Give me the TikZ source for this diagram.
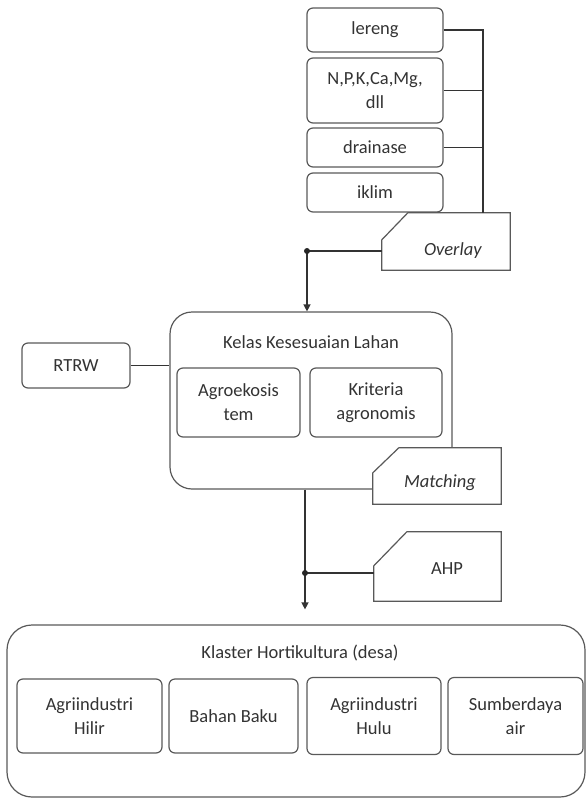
\documentclass[tikz,border=0pt]{standalone}
\usepackage{fontspec}
\setmainfont{Carlito}
\usetikzlibrary{arrows.meta}

\begin{document}
\begin{tikzpicture}[x=1pt,y=-1pt]
\tikzstyle{every node}=[font=\fontsize{18.5}{24}\selectfont, text=black!80]
\tikzstyle{kotak}=[draw=black!65, line width=1.2pt, rounded corners=6pt, align=center]
\tikzstyle{garis}=[draw=black!80, line width=1.3pt]
\tikzstyle{potong}=[draw=black!65, line width=1.2pt, fill=white]
\tikzstyle{panah}=[garis, -{Triangle[width=7pt,length=7pt]}]
\useasboundingbox (0, 0) rectangle (587, 798);

% parameter lahan
\node [kotak, minimum width=136pt, minimum height=44pt] (lereng) at (375, 30) {lereng};
\node [kotak, minimum width=136pt, minimum height=65pt] (npk) at (375, 90.5) {N,P,K,Ca,Mg,\\dll};
\node [kotak, minimum width=136pt, minimum height=39pt] (drainase) at (375, 147.5) {drainase};
\node [kotak, minimum width=136pt, minimum height=39pt] (iklim) at (375, 192.5) {iklim};

% overlay
\coordinate (bus) at (483, 0);
\node [minimum width=128pt, minimum height=57pt] (overlay) at (446, 241.5) {};
\draw [potong] ([xshift=26pt]overlay.north west) -- (overlay.north east) -- (overlay.south east)
  -- (overlay.south west) -- ([yshift=-27pt]overlay.north west) -- cycle;
\node (overlaytext) at (453, 251) {\textit{Overlay}};

\draw [garis] (lereng.east) -- (lereng.east -| bus) -- (overlay.north -| bus);
\draw [garis] (npk.east) -- (npk.east -| bus);
\draw [garis] (drainase.east) -- (drainase.east -| bus);

% kesesuaian lahan
\node [kotak, rounded corners=22pt, minimum width=282pt, minimum height=177pt] (kelas) at (311, 400.5) {};
\node (kelastitle) at (311, 342) {Kelas Kesesuaian Lahan};
\node [kotak, minimum width=123pt, minimum height=69pt] (agro) at (238.5, 402.5) {Agroekosis\\tem};
\node [kotak, minimum width=132pt, minimum height=69pt] (kriteria) at (376, 402.5) {Kriteria\\agronomis};
\node [kotak, minimum width=108pt, minimum height=45pt] (rtrw) at (76, 365.5) {RTRW};
\draw [garis] (rtrw.east) -- (rtrw.east -| kelas.west);

\coordinate (j1) at (307, 251);
\draw [garis] (overlay.west |- j1) -- (j1);
\draw [panah] (j1) -- (j1 |- kelas.north);
\fill [black!85] (j1) circle [radius=3];

% matching
\node [minimum width=128pt, minimum height=56pt] (matching) at (437, 476) {};
\draw [potong] ([xshift=26pt]matching.north west) -- (matching.north east) -- (matching.south east)
  -- (matching.south west) -- ([yshift=-25pt]matching.north west) -- cycle;
\node (matchingtext) at (440, 483) {\textit{Matching}};

% AHP
\node [minimum width=127pt, minimum height=69pt] (ahp) at (437.5, 566.5) {};
\draw [potong] ([xshift=33pt]ahp.north west) -- (ahp.north east) -- (ahp.south east)
  -- (ahp.south west) -- ([yshift=-34pt]ahp.north west) -- cycle;
\node (ahptext) at (447, 569) {AHP};

% klaster
\node [kotak, rounded corners=25pt, minimum width=578pt, minimum height=172pt] (klaster) at (296, 711) {};
\node (klastertitle) at (300, 653) {Klaster Hortikultura (desa)};
\node [kotak, minimum width=145pt, minimum height=74pt] (hilir) at (89.5, 716) {Agriindustri\\Hilir};
\node [kotak, minimum width=129pt, minimum height=74pt] (baku) at (233.5, 716) {Bahan Baku};
\node [kotak, minimum width=134pt, minimum height=77pt] (hulu) at (374, 716) {Agriindustri\\Hulu};
\node [kotak, minimum width=135pt, minimum height=77pt] (air) at (515.5, 716) {Sumberdaya\\air};

\coordinate (j2) at (305, 573);
\draw [garis] (kelas.south -| j2) -- (j2);
\draw [garis] (ahp.west |- j2) -- (j2);
\draw [panah] (j2) -- ([yshift=15pt]klaster.north -| j2);
\fill [black!85] (j2) circle [radius=3];

\end{tikzpicture}
\end{document}
